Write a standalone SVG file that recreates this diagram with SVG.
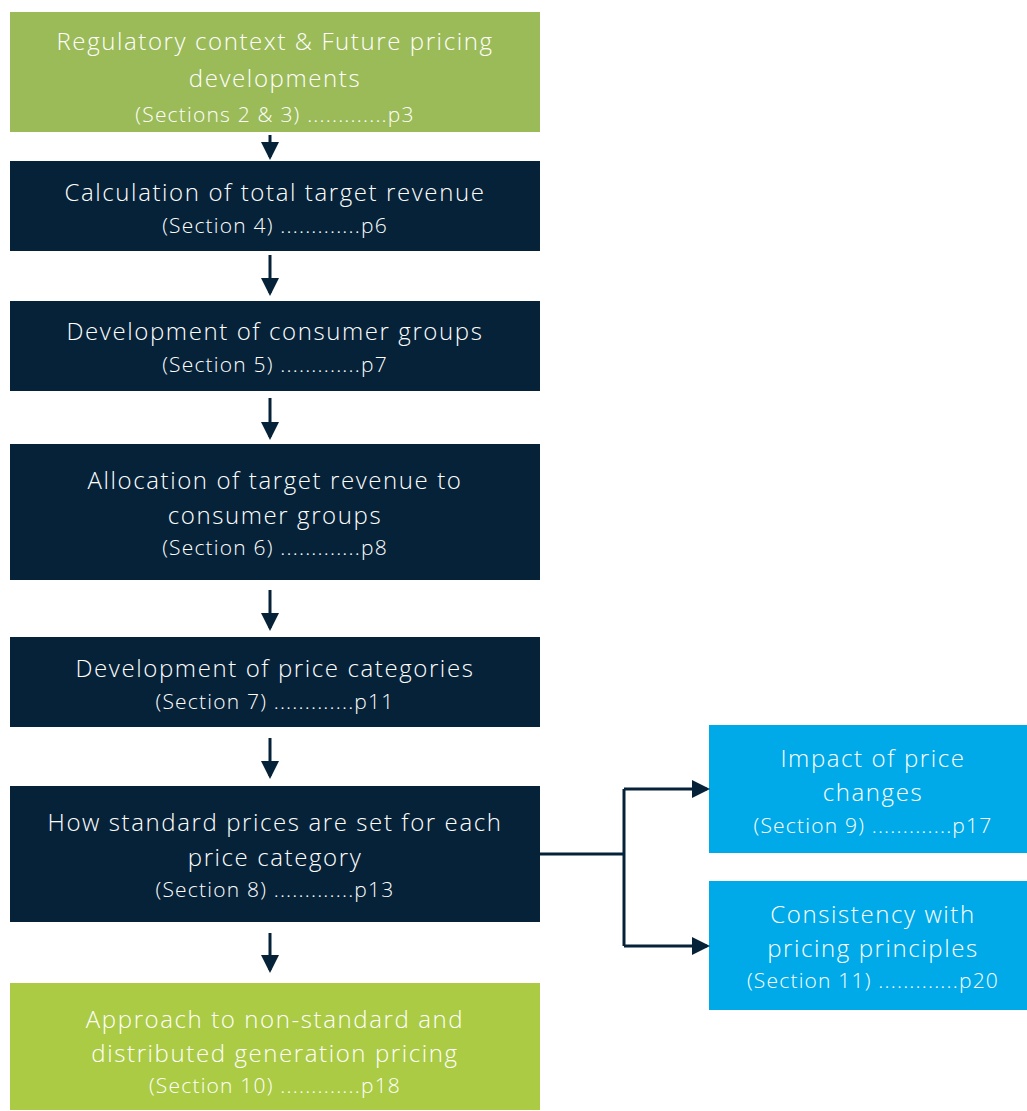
<svg xmlns="http://www.w3.org/2000/svg" width="1027" height="1111" viewBox="0 0 1027 1111">
<style>
.t{font-family:"Open Sans",Lato,"Liberation Sans",sans-serif;font-weight:300;fill:#ffffff;text-anchor:middle}
.h{font-size:24px;letter-spacing:1.6px}
.s{font-size:21px;letter-spacing:1.2px}
.navy{fill:#062238}
.g1{fill:#9BBB59}
.g2{fill:#ABCB45}
.blue{fill:#00AAE9}
.ln{stroke:#062238;stroke-width:3;fill:none}
</style>
<defs>
<marker id="ah" markerWidth="6" markerHeight="6" refX="5" refY="3" orient="auto" markerUnits="strokeWidth">
<path d="M0,0 L6,3 L0,6 Z" fill="#062238"/>
</marker>
</defs>
<rect width="1027" height="1111" fill="#ffffff"/>
<g id="n1"><rect class="g1" x="10" y="12" width="530" height="120"/>
<text class="t h" x="275" y="50">Regulatory context &amp; Future pricing</text>
<text class="t h" x="275" y="87">developments</text>
<text class="t s" x="275" y="122">(Sections 2 &amp; 3) .............p3</text></g>
<g id="n2"><rect class="navy" x="10" y="161" width="530" height="90"/>
<text class="t h" x="275" y="201">Calculation of total target revenue</text>
<text class="t s" x="275" y="233">(Section 4) .............p6</text></g>
<g id="n3"><rect class="navy" x="10" y="301" width="530" height="90"/>
<text class="t h" x="275" y="340">Development of consumer groups</text>
<text class="t s" x="275" y="372">(Section 5) .............p7</text></g>
<g id="n4"><rect class="navy" x="10" y="444" width="530" height="136"/>
<text class="t h" x="275" y="489">Allocation of target revenue to</text>
<text class="t h" x="275" y="524">consumer groups</text>
<text class="t s" x="275" y="555">(Section 6) .............p8</text></g>
<g id="n5"><rect class="navy" x="10" y="637" width="530" height="90"/>
<text class="t h" x="275" y="677">Development of price categories</text>
<text class="t s" x="275" y="709">(Section 7) .............p11</text></g>
<g id="n6"><rect class="navy" x="10" y="786" width="530" height="136"/>
<text class="t h" x="275" y="831">How standard prices are set for each</text>
<text class="t h" x="275" y="866">price category</text>
<text class="t s" x="275" y="897">(Section 8) .............p13</text></g>
<g id="n7"><rect class="g2" x="10" y="983" width="530" height="127"/>
<text class="t h" x="275" y="1028">Approach to non-standard and</text>
<text class="t h" x="275" y="1062">distributed generation pricing</text>
<text class="t s" x="275" y="1093">(Section 10) .............p18</text></g>
<g id="n8"><rect class="blue" x="709" y="725" width="318" height="128"/>
<text class="t h" x="873" y="767">Impact of price</text>
<text class="t h" x="873" y="801">changes</text>
<text class="t s" x="873" y="833">(Section 9) .............p17</text></g>
<g id="n9"><rect class="blue" x="709" y="881" width="318" height="129"/>
<text class="t h" x="873" y="923">Consistency with</text>
<text class="t h" x="873" y="957">pricing principles</text>
<text class="t s" x="873" y="988">(Section 11) .............p20</text></g>
<g id="connectors">
<path class="ln" d="M270,135 V157" marker-end="url(#ah)"/>
<path class="ln" d="M270,255 V293" marker-end="url(#ah)"/>
<path class="ln" d="M270,398 V437" marker-end="url(#ah)"/>
<path class="ln" d="M270,590 V628" marker-end="url(#ah)"/>
<path class="ln" d="M270,738 V776" marker-end="url(#ah)"/>
<path class="ln" d="M270,933 V970" marker-end="url(#ah)"/>
<path class="ln" d="M540,854 H624"/>
<path class="ln" d="M624,789 V946"/>
<path class="ln" d="M624,789 H707" marker-end="url(#ah)"/>
<path class="ln" d="M624,946 H707" marker-end="url(#ah)"/>
</g>
</svg>
